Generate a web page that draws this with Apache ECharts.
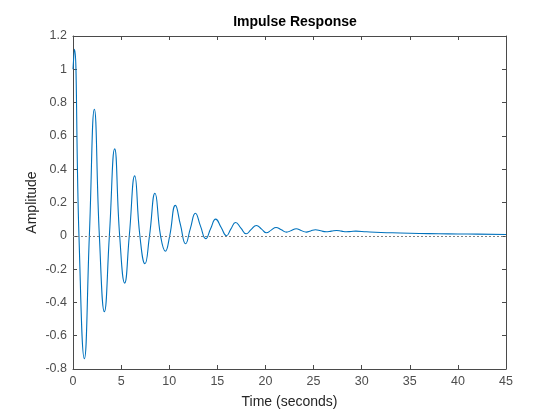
<!DOCTYPE html>
<html>
<head>
<meta charset="utf-8">
<script src="https://cdn.jsdelivr.net/npm/echarts@6/dist/echarts.min.js"></script>
<style>
html,body{margin:0;padding:0;background:#fff;}
#main{width:560px;height:420px;}
</style>
</head>
<body>
<div id="main"></div>
<script>
var timeSec = [0, 0.15, 0.62, 1.18, 1.7, 2.22, 2.74, 3.26, 3.78, 4.33, 4.85, 5.37, 5.85, 6.41, 6.95, 7.48, 7.95, 8.52, 9.1, 9.6, 10.05, 10.64,
  11.17, 11.7, 12.2, 12.72, 13.25, 13.8, 14.3, 14.83, 15.4, 15.95, 16.4, 16.9, 17.45, 18.0, 18.5, 19.06, 19.6, 20.1, 20.6, 21.1,
  21.65, 22.2, 22.7, 23.2, 23.7, 24.26, 24.7, 25.2, 25.75, 26.3, 26.85, 27.4, 27.9, 28.4, 28.9, 29.4, 30.5, 32, 34, 36, 38, 40, 42, 45];
var amplitude = [1.0, 1.12, 0.0, -0.738, 0.0, 0.76, 0.0, -0.456, 0.0, 0.522, 0.0, -0.284, 0.0, 0.36, 0.0, -0.168, 0.0, 0.256, 0.0, -0.093, 0.0, 0.183,
  0.065, -0.048, 0.045, 0.135, 0.058, -0.017, 0.042, 0.1, 0.05, 0.0, 0.04, 0.08, 0.046, 0.012, 0.037, 0.062, 0.04, 0.018, 0.034, 0.05,
  0.036, 0.022, 0.032, 0.042, 0.032, 0.022, 0.029, 0.036, 0.03, 0.024, 0.028, 0.032, 0.028, 0.024, 0.026, 0.028, 0.024, 0.02, 0.017, 0.014, 0.012, 0.011, 0.01, 0.008];
var xTicks = {min: 0, max: 45, interval: 5};
var yTicks = {min: -0.8, max: 1.2, interval: 0.2};

var points = timeSec.map(function (t, i) { return [t, amplitude[i]]; });
var axisColor = '#262626';
var lineColor = '#4a4a4a';
var labelColor = '#4d4d4d';
var font = 'Liberation Sans, Arial, Helvetica, sans-serif';

function xAx(pos, main) {
  return {
    type: 'value', position: pos, min: xTicks.min, max: xTicks.max, interval: xTicks.interval,
    name: main ? 'Time (seconds)' : '', nameLocation: 'middle', nameGap: 26, nameMoveOverlap: false,
    nameTextStyle: {color: axisColor, fontSize: 14, fontFamily: font},
    axisLine: {show: true, onZero: false, lineStyle: {color: lineColor, width: 1}},
    axisTick: {show: true, inside: true, length: 4, lineStyle: {color: lineColor}},
    axisLabel: {show: main, color: labelColor, fontSize: 12.5, fontFamily: font, margin: 6},
    splitLine: {show: false}
  };
}
function yAx(pos, main) {
  return {
    type: 'value', position: pos, min: yTicks.min, max: yTicks.max, interval: yTicks.interval,
    name: main ? 'Amplitude' : '', nameLocation: 'middle', nameGap: 34, nameMoveOverlap: false,
    nameTextStyle: {color: axisColor, fontSize: 14, fontFamily: font},
    axisLine: {show: true, onZero: false, lineStyle: {color: lineColor, width: 1}},
    axisTick: {show: true, inside: true, length: 4, lineStyle: {color: lineColor}},
    axisLabel: {show: main, color: labelColor, fontSize: 12.5, fontFamily: font, margin: 6},
    splitLine: {show: false}
  };
}

var chart = echarts.init(document.getElementById('main'), null, {renderer: 'canvas'});
chart.setOption({
  animation: false,
  backgroundColor: '#ffffff',
  title: {
    text: 'Impulse Response', left: 290, top: 10, textAlign: 'center',
    textStyle: {color: '#000000', fontSize: 14, fontWeight: 'bold', fontFamily: font}
  },
  grid: {left: 73, right: 54, top: 36, bottom: 51, containLabel: false},
  xAxis: [xAx('bottom', true), xAx('top', false)],
  yAxis: [yAx('left', true), yAx('right', false)],
  series: [{
    type: 'line',
    data: points,
    showSymbol: false,
    smooth: 0.5,
    lineStyle: {color: '#0072BD', width: 1.1},
    markLine: {
      silent: true, symbol: ['none', 'none'], label: {show: false},
      lineStyle: {color: '#808080', type: [2, 2], width: 1},
      data: [{yAxis: 0}]
    }
  }]
});
</script>
</body>
</html>
